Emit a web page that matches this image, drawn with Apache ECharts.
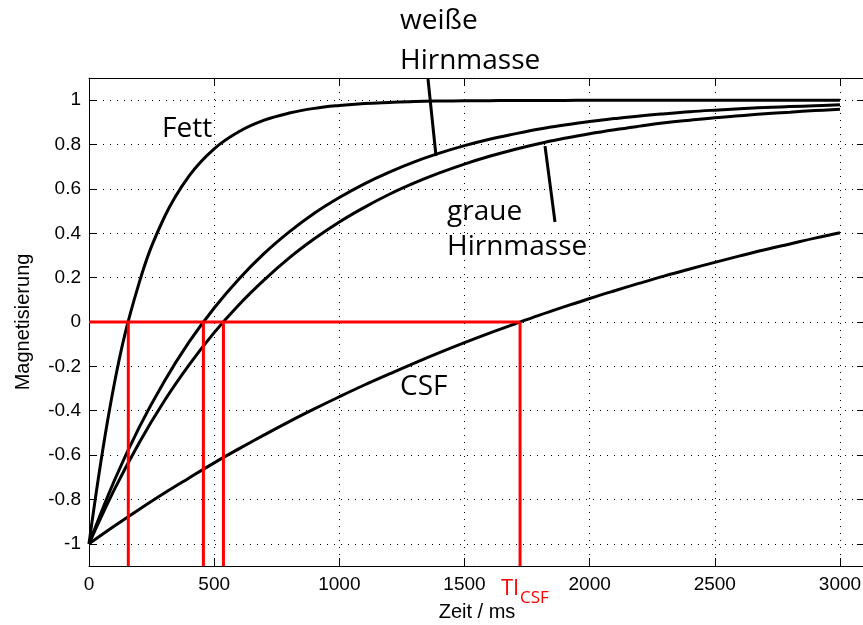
<!DOCTYPE html>
<html>
<head>
<meta charset="utf-8">
<script src="https://cdn.jsdelivr.net/npm/echarts@6/dist/echarts.min.js"></script>
<style>
  html, body { margin: 0; padding: 0; background: #fff; }
  #main { width: 863px; height: 625px; }
</style>
</head>
<body>
<div id="main"></div>
<script>
// inversion time in ms
const times = [0, 100, 200, 300, 400, 500, 600, 700, 800, 900, 1000,
  1100, 1200, 1300, 1400, 1500, 1600, 1700, 1800, 1900, 2000,
  2100, 2200, 2300, 2400, 2500, 2600, 2700, 2800, 2900, 3000];

// magnetisation
const fett = [-1, -0.285, 0.175, 0.47, 0.659, 0.781, 0.859, 0.91, 0.942, 0.963, 0.976,
  0.985, 0.99, 0.994, 0.996, 0.997, 0.998, 0.999, 0.999, 0.999, 1,
  1, 1, 1, 1, 1, 1, 1, 1, 1, 1];
const weiss = [-1, -0.718, -0.476, -0.269, -0.09, 0.063, 0.195, 0.309, 0.406, 0.49, 0.561,
  0.623, 0.676, 0.722, 0.761, 0.795, 0.824, 0.848, 0.87, 0.888, 0.904,
  0.917, 0.929, 0.939, 0.948, 0.955, 0.961, 0.967, 0.971, 0.975, 0.979];
const grau = [-1, -0.758, -0.545, -0.357, -0.193, -0.048, 0.079, 0.19, 0.289, 0.375, 0.451,
  0.517, 0.576, 0.627, 0.672, 0.712, 0.747, 0.778, 0.805, 0.828, 0.849,
  0.867, 0.883, 0.898, 0.91, 0.921, 0.93, 0.939, 0.946, 0.953, 0.959];
const csf = [-1, -0.921, -0.845, -0.772, -0.703, -0.635, -0.571, -0.509, -0.449, -0.392, -0.337,
  -0.284, -0.234, -0.185, -0.138, -0.093, -0.05, -0.009, 0.031, 0.069, 0.106,
  0.141, 0.175, 0.208, 0.239, 0.269, 0.298, 0.326, 0.352, 0.378, 0.402];

// zero crossings (red lines): Fett, weisse, graue, CSF
const nullTimes = [157, 457, 537, 1722];

const xMin = 0, xMax = 3100;
const yMin = -1.1, yMax = 1.1;

const chart = echarts.init(document.getElementById("main"), null, { renderer: "canvas" });

const dotted = { color: "#000", width: 1, type: [1, 6] };
const labelFont = { color: "#000", fontSize: 19, fontFamily: "Liberation Sans, Arial, sans-serif" };
const nameFont = { color: "#000", fontSize: 20, fontFamily: "Liberation Sans, Arial, sans-serif" };

function curve(name, values) {
  return {
    name: name,
    type: "line",
    data: times.map((t, i) => [t, values[i]]),
    showSymbol: false,
    smooth: 0.4,
    lineStyle: { color: "#000", width: 3 },
    z: 3,
  };
}

const redLines = [
  {
    name: "null",
    type: "line",
    data: [[0, 0], [nullTimes[nullTimes.length - 1], 0]],
    showSymbol: false,
    lineStyle: { color: "#ff0000", width: 3 },
    z: 4,
  },
].concat(nullTimes.map((t) => ({
  name: "TI",
  type: "line",
  data: [[t, 0], [t, yMin]],
  showSymbol: false,
  lineStyle: { color: "#ff0000", width: 3 },
  z: 4,
})));

const annFont = "Open Sans, sans-serif";
function txt(s, x, y, size, color) {
  return {
    type: "text",
    x: x,
    y: y,
    z: 10,
    style: {
      text: s,
      fontSize: size,
      fontFamily: annFont,
      fill: color || "#000",
      verticalAlign: "middle",
      align: "left",
    },
  };
}
function pointer(x1, y1, x2, y2) {
  return {
    type: "line",
    z: 10,
    shape: { x1: x1, y1: y1, x2: x2, y2: y2 },
    style: { stroke: "#000", lineWidth: 3 },
  };
}

const option = {
  animation: false,
  backgroundColor: "#fff",
  grid: { left: 89, right: -2, top: 78, bottom: 59, containLabel: false, outerBoundsMode: "none" },
  xAxis: [
    {
      type: "value",
      min: xMin,
      max: xMax,
      interval: 500,
      name: "Zeit / ms",
      nameLocation: "middle",
      nameGap: 36,
      nameTextStyle: nameFont,
      axisLine: { show: true, onZero: false, lineStyle: { color: "#000", width: 1 } },
      axisTick: { show: true, inside: true, length: 8, lineStyle: { color: "#000" } },
      axisLabel: Object.assign({ margin: 9, showMaxLabel: false,
        formatter: (v) => (v % 500 === 0 ? String(v) : "") }, labelFont),
      splitLine: { show: true, lineStyle: dotted },
    },
    {
      type: "value",
      position: "top",
      min: xMin,
      max: xMax,
      interval: 500,
      axisLine: { show: true, onZero: false, lineStyle: { color: "#000", width: 1 } },
      axisTick: { show: true, inside: true, length: 8, lineStyle: { color: "#000" } },
      axisLabel: { show: false },
      splitLine: { show: false },
    },
  ],
  yAxis: [
    {
      type: "value",
      min: yMin,
      max: yMax,
      splitNumber: 11,
      name: "Magnetisierung",
      nameLocation: "middle",
      nameGap: 56,
      nameTextStyle: nameFont,
      axisLine: { show: true, onZero: false, lineStyle: { color: "#000", width: 1 } },
      axisTick: { show: true, inside: true, length: 8, lineStyle: { color: "#000" } },
      axisLabel: Object.assign({ margin: 8, showMinLabel: false, showMaxLabel: false }, labelFont),
      splitLine: { show: true, lineStyle: dotted },
    },
    {
      type: "value",
      position: "right",
      min: yMin,
      max: yMax,
      splitNumber: 11,
      axisLine: { show: true, onZero: false, lineStyle: { color: "#000", width: 1 } },
      axisTick: { show: true, inside: true, length: 8, lineStyle: { color: "#000" } },
      axisLabel: { show: false },
      splitLine: { show: false },
    },
  ],
  series: [
    curve("Fett", fett),
    curve("weiße Hirnmasse", weiss),
    curve("graue Hirnmasse", grau),
    curve("CSF", csf),
  ].concat(redLines),
  graphic: [
    txt("Fett", 162, 129, 28),
    txt("weiße", 400, 21, 28),
    txt("Hirnmasse", 400, 61, 28),
    txt("graue", 447, 212, 28),
    txt("Hirnmasse", 447, 247, 28),
    txt("CSF", 400, 387, 28),
    txt("TI", 501, 589, 22, "#ff0000"),
    txt("CSF", 520, 598, 17, "#ff0000"),
    pointer(428, 79, 436, 156),
    pointer(545, 146, 555, 222),
  ],
};

chart.setOption(option);
</script>
</body>
</html>
